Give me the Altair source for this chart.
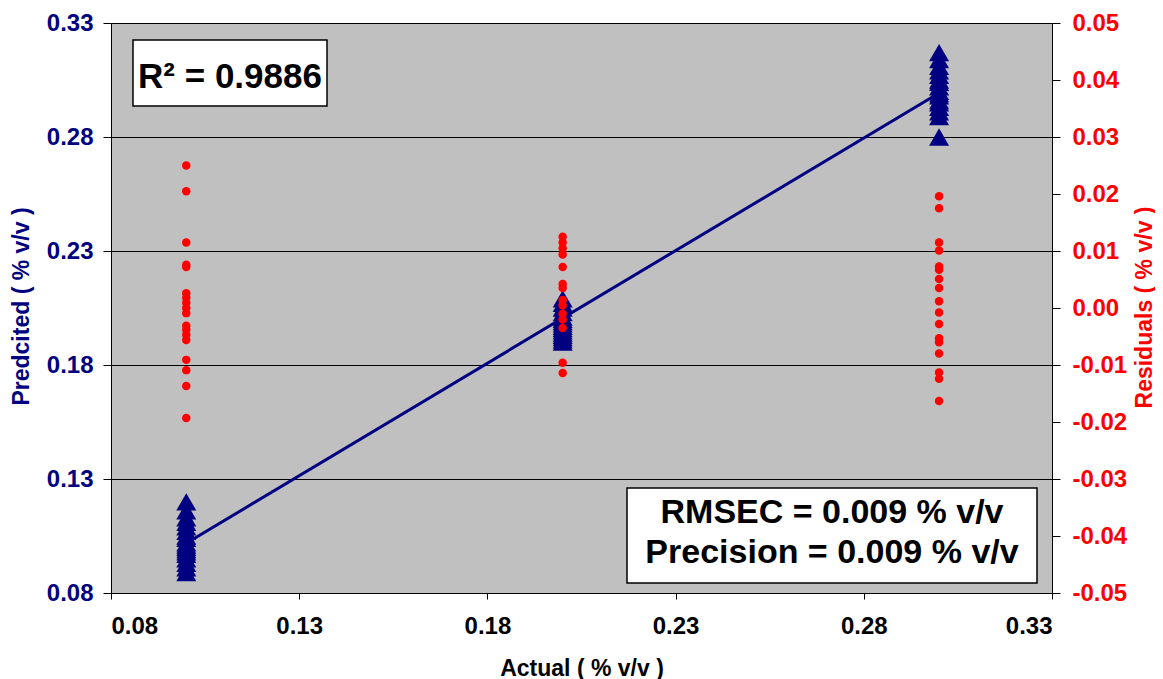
import altair as alt
import pandas as pd

# ---- data ----
actual_levels = [0.1, 0.2, 0.3]
pred_010 = [0.120, 0.116, 0.113, 0.111, 0.109, 0.107, 0.105, 0.104, 0.102,
            0.101, 0.100, 0.099, 0.098, 0.097, 0.095, 0.093, 0.091, 0.089]
pred_020 = [0.209, 0.207, 0.205, 0.203, 0.201, 0.200, 0.199, 0.198, 0.197,
            0.196, 0.195, 0.194, 0.193, 0.192, 0.191, 0.190]
pred_030 = [0.317, 0.314, 0.311, 0.309, 0.307, 0.305, 0.304, 0.302, 0.300,
            0.299, 0.298, 0.296, 0.295, 0.293, 0.291, 0.289, 0.280]
resid_010 = [0.0250, 0.0205, 0.0115, 0.0076, 0.0072, 0.0026, 0.0018, 0.0009,
             0.0000, -0.0009, -0.0031, -0.0038, -0.0047, -0.0056, -0.0091,
             -0.0109, -0.0137, -0.0193]
resid_020 = [0.0125, 0.0115, 0.0105, 0.0094, 0.0072, 0.0042, 0.0035, 0.0014,
             0.0005, -0.0010, -0.0020, -0.0035, -0.0096, -0.0114]
resid_030 = [0.0196, 0.0175, 0.0115, 0.0101, 0.0073, 0.0067, 0.0051, 0.0035,
             0.0012, -0.0008, -0.0028, -0.0053, -0.0060, -0.0080, -0.0113,
             -0.0124, -0.0163]
fit_actual = [0.1, 0.3]
fit_pred = [0.1018, 0.2993]
x_ticks = [0.08, 0.13, 0.18, 0.23, 0.28, 0.33]
left_ticks = [0.08, 0.13, 0.18, 0.23, 0.28, 0.33]
right_ticks = [-0.05, -0.04, -0.03, -0.02, -0.01, 0.0, 0.01, 0.02, 0.03, 0.04, 0.05]
r2_text = "R\u00b2 = 0.9886"
rmsec_text = "RMSEC = 0.009 % v/v"
precision_text = "Precision = 0.009 % v/v"

# ---- tables ----
pred_rows = []
for lvl, vals in zip(actual_levels, [pred_010, pred_020, pred_030]):
    pred_rows += [{"actual": lvl, "pred": v} for v in vals]
pred_df = pd.DataFrame(pred_rows)

res_rows = []
for lvl, vals in zip(actual_levels, [resid_010, resid_020, resid_030]):
    res_rows += [{"actual": lvl, "resid": v} for v in vals]
res_df = pd.DataFrame(res_rows)

fit_df = pd.DataFrame({"actual": fit_actual, "pred": fit_pred})
one = pd.DataFrame({"k": [0]})

FONT = "Liberation Sans"
NAVY = "#000080"
RED = "#FF0000"
LBL = 24
TTL = 23

x_enc = alt.X(
    "actual:Q",
    scale=alt.Scale(domain=[0.08, 0.33], nice=False, zero=False),
    axis=alt.Axis(
        values=x_ticks, format=".2f", title="Actual ( % v/v )",
        labelFont=FONT, labelFontSize=LBL, labelFontWeight="bold", labelColor="black",
        titleFont=FONT, titleFontSize=TTL, titleFontWeight="bold", titleColor="black",
        tickSize=6, tickColor="black", domainColor="black", labelPadding=15,
        titleY=82, titleBaseline="alphabetic", grid=False,
    ),
)

left_scale = alt.Scale(domain=[0.08, 0.33], nice=False, zero=False)
left_axis = alt.Axis(
    values=left_ticks, format=".2f", title="Predcited ( % v/v )",
    labelFont=FONT, labelFontSize=LBL, labelFontWeight="bold", labelColor=NAVY,
    titleFont=FONT, titleFontSize=TTL, titleFontWeight="bold", titleColor=NAVY,
    tickSize=8, tickColor="black", domainColor="black", labelPadding=10,
    grid=True, gridColor="black", gridWidth=1, gridOpacity=1,
    titleX=-90, titleY=283, titleAngle=270, titleBaseline="middle", titleAlign="center",
)

line = alt.Chart(fit_df).mark_line(color=NAVY, strokeWidth=3).encode(
    x=x_enc, y=alt.Y("pred:Q", scale=left_scale, axis=left_axis)
)
tri = alt.Chart(pred_df).mark_point(
    shape="triangle-up", filled=True, size=400, color=NAVY, opacity=1
).encode(x=x_enc, y=alt.Y("pred:Q", scale=left_scale, axis=left_axis))

left = alt.layer(line, tri)

right_axis = alt.Axis(
    values=right_ticks, orient="right", title="Residuals ( % v/v )",
    labelExpr="replace(format(datum.value, '.2f'), '\u2212', '-')",
    labelFont=FONT, labelFontSize=LBL, labelFontWeight="bold", labelColor=RED,
    titleFont=FONT, titleFontSize=TTL, titleFontWeight="bold", titleColor=RED,
    tickSize=8, tickColor="black", domainColor="black", labelPadding=12,
    grid=False,
    titleX=92, titleY=284, titleAngle=270, titleBaseline="middle", titleAlign="center",
)
dots = alt.Chart(res_df).mark_circle(size=72, color=RED, opacity=1).encode(
    x=x_enc,
    y=alt.Y("resid:Q", scale=alt.Scale(domain=[-0.05, 0.05], nice=False, zero=False),
            axis=right_axis),
)

box1 = alt.Chart(one).mark_rect(fill="white", stroke="black", strokeWidth=1.5).encode(
    x=alt.value(22), x2=alt.value(216), y=alt.value(17), y2=alt.value(83)
)
txt1 = alt.Chart(one).mark_text(
    text=r2_text, font=FONT, fontSize=35, fontWeight="bold", color="black",
    align="center", baseline="alphabetic"
).encode(x=alt.value(119), y=alt.value(65))

box2 = alt.Chart(one).mark_rect(fill="white", stroke="black", strokeWidth=1.5).encode(
    x=alt.value(516), x2=alt.value(926), y=alt.value(465), y2=alt.value(560)
)
txt2 = alt.Chart(one).mark_text(
    text=rmsec_text, font=FONT, fontSize=34, fontWeight="bold", color="black",
    align="center", baseline="alphabetic"
).encode(x=alt.value(721), y=alt.value(500))
txt3 = alt.Chart(one).mark_text(
    text=precision_text, font=FONT, fontSize=34, fontWeight="bold", color="black",
    align="center", baseline="alphabetic"
).encode(x=alt.value(721), y=alt.value(540))

right = alt.layer(dots, box1, txt1, box2, txt2, txt3)

chart = (
    alt.layer(left, right)
    .resolve_scale(y="independent")
    .properties(
        width=941, height=570,
        autosize=alt.AutoSizeParams(type="none"),
        padding={"left": 103, "top": 15, "right": 103, "bottom": 86},
        background="white",
    )
    .configure_view(fill="#C0C0C0", stroke="#808080", strokeWidth=1)
)

chart.save("out.html", embed_options={"renderer": "svg", "actions": False})
